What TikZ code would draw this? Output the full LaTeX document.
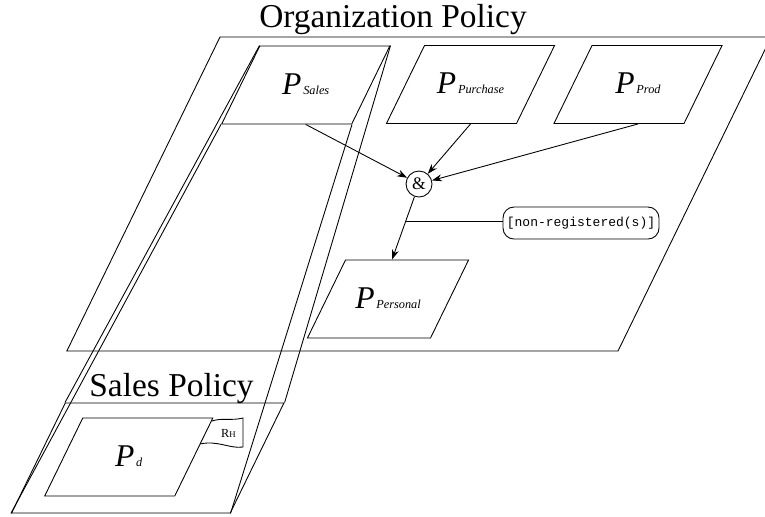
\documentclass[tikz,border=0pt]{standalone}
\usepackage{fontspec}
\setmainfont{Liberation Serif}
\setmonofont{Liberation Mono}
\usetikzlibrary{arrows.meta,positioning,calc,shapes.geometric}

\newcommand{\pname}[1]{{\fontsize{18}{18}\selectfont\itshape P}\kern1pt{\fontsize{7}{7}\selectfont\itshape #1}}

\begin{document}
\begin{tikzpicture}[
  pbox/.style={draw, trapezium, trapezium left angle=64, trapezium right angle=116,
    inner sep=0pt, align=center, text width=1.84cm, text height=0.96cm,
    text depth=0.6cm},
  plane/.style={pbox, text height=#1, text depth=#1},
  title/.style={font=\fontsize{19}{19}\selectfont, inner sep=0pt},
  cond/.style={draw, rounded corners=0.22cm, minimum width=3.12cm,
    minimum height=0.64cm, inner sep=0pt, font=\ttfamily\fontsize{7.4}{8}\selectfont},
  arr/.style={-{Stealth[length=2mm, width=1.4mm]}},
  line width=0.5pt
]
\useasboundingbox (0,0) rectangle (15.3,-10.32);

\node[plane=3.14cm, text width=7.96cm] (orgplane) at (8.38,-3.88) {};
\node[title] (orgtitle) at (7.86,-0.4) {Organization Policy};
\node[pbox] (sales) at (6.115,-1.7) {\pname{Sales}};
\node[pbox] (purchase) at (9.41,-1.69) {\pname{Purchase}};
\node[pbox] (prod) at (12.76,-1.69) {\pname{Prod}};
\node[draw, circle, minimum size=0.52cm, inner sep=0pt,
  font=\fontsize{10}{10}\selectfont] (and) at (8.38,-3.68) {\&};
\node[pbox, text width=1.7cm] (personal) at (7.76,-5.98) {\pname{Personal}};
\node[cond] (nonreg) at (11.62,-4.46) {[non-registered(s)]};

\node[plane=1.1cm, text width=3.3cm] (salesplane) at (2.955,-9.16) {};
\node[title] (salestitle) at (3.43,-7.78) {Sales Policy};
\node[pbox] (pd) at (2.575,-9.14) {\pname{d}};
\node[inner sep=0pt, font=\fontsize{7}{7}\selectfont] (rh) at (4.57,-8.66)
  {R{\fontsize{5}{5}\selectfont H}};
\draw (4.24,-8.42) .. controls (4.45,-8.35) and (4.62,-8.42) .. (4.86,-8.36)
  -- (4.86,-8.94) .. controls (4.6,-8.98) and (4.35,-8.80) .. (4.00,-8.88);

\foreach \c in {top left corner, top right corner, bottom left corner, bottom right corner}
  \draw (sales.\c) -- (salesplane.\c);

\draw[arr] (sales.south) -- (and);
\draw[arr] (purchase.south) -- (and);
\draw[arr] (prod.south) -- (and);
\draw[arr] (and) -- coordinate[pos=0.4] (cnd) ([xshift=0.08cm]personal.north);
\draw (cnd) -- (cnd -| nonreg.west);
\end{tikzpicture}
\end{document}
